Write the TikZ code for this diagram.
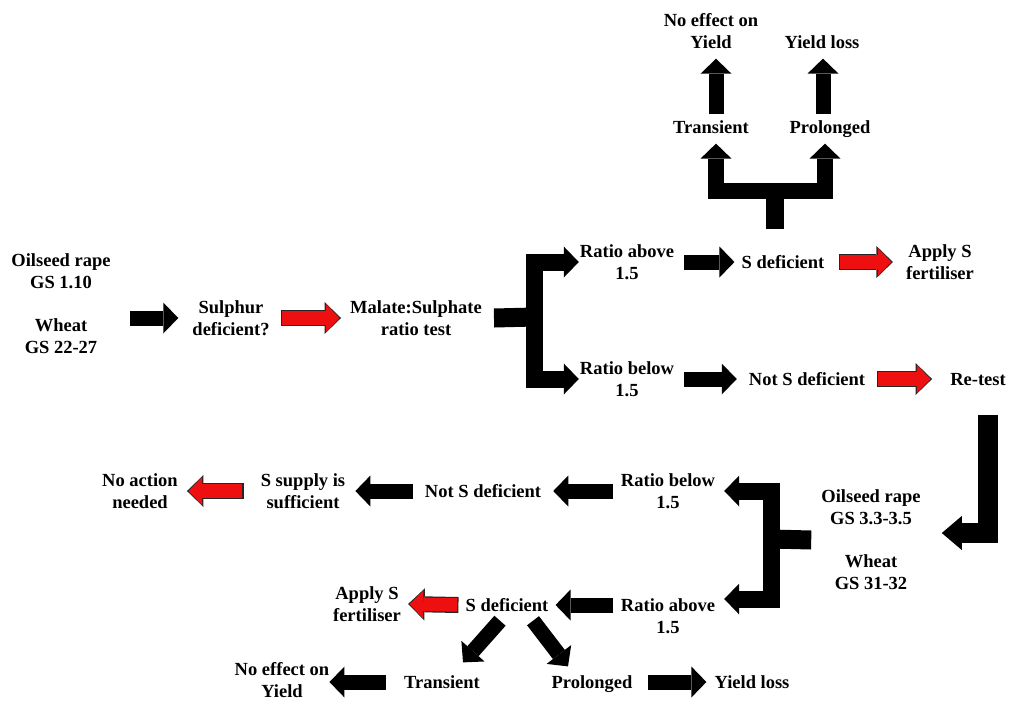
\documentclass[tikz,border=0pt]{standalone}
\usepackage{fontspec}
\setmainfont{Liberation Serif}
\usetikzlibrary{arrows.meta,calc}
\definecolor{sred}{RGB}{238,16,16}

\begin{document}
\begin{tikzpicture}[x=1pt,y=1pt,yscale=-1,xscale=1,
	lbl/.style={align=center,inner sep=0pt,text depth=0pt,font=\fontsize{18.5}{22}\selectfont\bfseries},
	fat/.style={draw=black,line width=15pt,-{Triangle[length=15pt,width=31pt,line width=0pt]}},
	fork/.style={fat,line width=17pt,line join=miter},
	stub/.style={draw=black,line width=19pt},
	bigarrow/.style={draw=black,line width=20pt,line join=miter,-{Triangle[length=20pt,width=34pt,line width=0pt]}},
	redarr/.style={draw=sred,line width=13.5pt,-{Triangle[length=13.5pt,width=28pt,line width=0pt]},shorten >=1.6pt,shorten <=1.2pt,
		preaction={draw=black!85,line width=16pt,shorten >=0pt,shorten <=0pt,-{Triangle[length=16.5pt,width=32pt,line width=0pt]}}}]
	\useasboundingbox[fill=white] (0,0) rectangle (1024,702);

	% Text Node
	\node[lbl] (stage1) at (61,304) {Oilseed rape\\GS 1.10\\[21pt]Wheat\\GS 22-27};
	% Text Node
	\node[lbl] (sul) at (231,318) {Sulphur\\deficient?};
	% Text Node
	\node[lbl] (mst) at (416,318) {Malate:Sulphate\\ratio test};
	% Text Node
	\node[lbl] (ra1) at (627,262) {Ratio above\\1.5};
	% Text Node
	\node[lbl] (rb1) at (627,379) {Ratio below\\1.5};
	% Text Node
	\node[lbl] (sd1) at (783,262) {S deficient};
	% Text Node
	\node[lbl] (asf1) at (940,262) {Apply S\\fertiliser};
	% Text Node
	\node[lbl] (nsd1) at (807,379) {Not S deficient};
	% Text Node
	\node[lbl] (rt) at (978,379) {Re-test};
	% Text Node
	\node[lbl] (tr1) at (711,127) {Transient};
	% Text Node
	\node[lbl] (pr1) at (830,127) {Prolonged};
	% Text Node
	\node[lbl] (ne1) at (711,31) {No effect on\\Yield};
	% Text Node
	\node[lbl] (yl1) at (822,42) {Yield loss};

	% Text Node
	\node[lbl] (stage2) at (871,540) {Oilseed rape\\GS 3.3-3.5\\[21pt]Wheat\\GS 31-32};
	% Text Node
	\node[lbl] (rb2) at (668,491) {Ratio below\\1.5};
	% Text Node
	\node[lbl] (ra2) at (668,616) {Ratio above\\1.5};
	% Text Node
	\node[lbl] (nsd2) at (483,491) {Not S deficient};
	% Text Node
	\node[lbl] (ssf) at (303,491) {S supply is\\sufficient};
	% Text Node
	\node[lbl] (nan) at (140,491) {No action\\needed};
	% Text Node
	\node[lbl] (sd2) at (507,605) {S deficient};
	% Text Node
	\node[lbl] (asf2) at (367,604) {Apply S\\fertiliser};
	% Text Node
	\node[lbl] (tr2) at (442,682) {Transient};
	% Text Node
	\node[lbl] (pr2) at (592,682) {Prolonged};
	% Text Node
	\node[lbl] (ne2) at (282,680) {No effect on\\Yield};
	% Text Node
	\node[lbl] (yl2) at (752,682) {Yield loss};

	% fork points
	\coordinate (fk1) at (534.5,317);
	\coordinate (fk2) at (771,539);
	\coordinate (fk3) at (775,191);

	%Block Arrows: first test
	\draw[fat,shorten <=19pt,shorten >=14pt] (stage1.east |- sul) -- (sul);
	\draw[redarr] ($(sul.east)+(11,0)$) -- ($(mst.west)+(-9,0)$);
	\draw[stub] ($(mst.east)+(12,0)$) -- (fk1);
	\draw[fork,shorten >=1pt] (fk1) |- (ra1);
	\draw[fork,shorten >=1pt] (fk1) |- (rb1);
	\draw[fat,shorten <=10pt,shorten >=7pt] (ra1) -- (sd1);
	\draw[redarr] ($(sd1.east)+(14,0)$) -- ($(asf1.west)+(-13,0)$);
	\draw[fat,shorten <=10pt,shorten >=12pt] (rb1) -- (nsd1);
	\draw[redarr] ($(nsd1.east)+(12,0)$) -- ($(rt.west)+(-18,0)$);
	%Block Arrows: top fork
	\draw[stub,line width=18pt] ($(sd1.north)+(-8,-26)$) -- (fk3);
	\draw[fork,line width=16pt] (fk3) -| ($(tr1.south)+(5,10)$);
	\draw[fork,line width=16pt] (fk3) -| ($(pr1.south)+(-5,10)$);
	\draw[fat] ($(tr1.north)+(5,-6)$) -- ($(ne1.south)+(5,10)$);
	\draw[fat] ($(pr1.north)+(-7,-6)$) -- ($(yl1.south)+(1,10)$);
	%Block Arrows: second test
	\draw[bigarrow] ($(rt.south)+(10,30)$) |- ($(stage2.east)+(21,-7)$);
	\draw[stub] ($(stage2.west)+(-10,0)$) -- (fk2);
	\draw[fork,shorten >=9pt] (fk2) |- (rb2);
	\draw[fork] (fk2) |- ($(ra2.east)+(9,-17)$);
	\draw[fat,shorten <=8pt,shorten >=12pt] (rb2) -- (nsd2);
	\draw[fat,shorten <=12pt,shorten >=10pt] (nsd2) -- (ssf);
	\draw[redarr] ($(ssf.west)+(-17,0)$) -- ($(nan.east)+(9,0)$);
	\draw[fat,shorten <=8pt,shorten >=7pt] (ra2.west |- sd2) -- (sd2);
	\draw[redarr] ($(sd2.west)+(-7,0)$) -- ($(asf2.east)+(7,0)$);
	\draw[fat] ($(sd2.south)+(-7,9)$) -- ($(tr2.north)+(21,-13)$);
	\draw[fat] ($(sd2.south)+(26,9)$) -- ($(pr2.north)+(-24,-9)$);
	\draw[fat,shorten <=18pt] (tr2) -- (tr2 -| ne2.east);
	\draw[fat,shorten <=15pt,shorten >=8pt] (pr2) -- (yl2);

\end{tikzpicture}
\end{document}
